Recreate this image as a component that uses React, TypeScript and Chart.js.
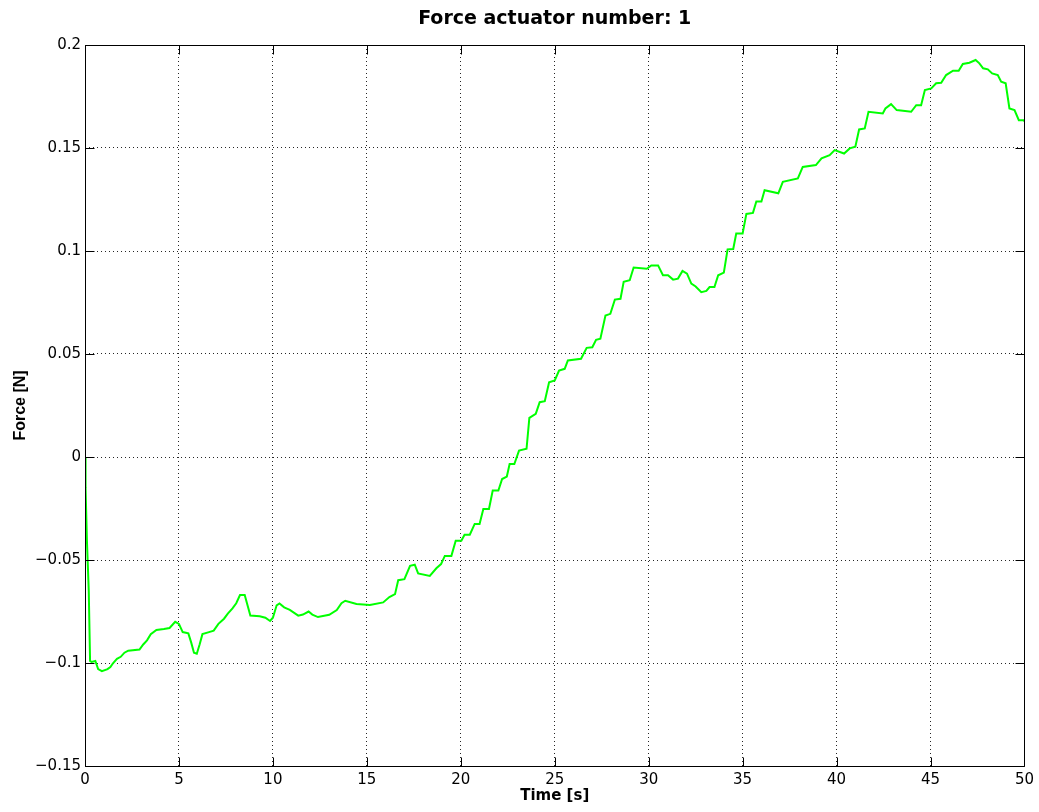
import React, { useEffect, useRef } from "react";
import { Chart, registerables } from "chart.js";

Chart.register(...registerables);

const timeValues: number[] = [
  0, 0.03, 0.1, 0.2, 0.27, 0.35, 0.55, 0.7, 0.9, 1.2, 1.35, 1.5, 1.7, 1.9, 2.1, 2.3, 2.9, 3.1, 3.3, 3.5,
  3.8, 4.2, 4.5, 4.8, 5.0, 5.2, 5.5, 5.65, 5.8, 5.95, 6.1, 6.25, 6.6, 6.85, 7.1, 7.4, 7.6, 7.85, 8.05, 8.25,
  8.5, 8.65, 8.8, 9.3, 9.6, 9.85, 10.0, 10.2, 10.35, 10.6, 10.9, 11.35, 11.6, 11.9, 12.1, 12.4, 13.0, 13.4, 13.65, 13.85,
  14.45, 15.16, 15.87, 16.2, 16.5, 16.67, 17.0, 17.3, 17.55, 17.73, 18.35, 18.7, 18.95, 19.15, 19.5, 19.73, 20.03, 20.2, 20.48, 20.74,
  21.0, 21.2, 21.5, 21.7, 22.0, 22.2, 22.45, 22.6, 22.85, 23.1, 23.5, 23.65, 23.99, 24.2, 24.47, 24.7, 25.0, 25.23, 25.53, 25.7,
  26.4, 26.7, 27.0, 27.2, 27.43, 27.7, 27.96, 28.2, 28.5, 28.67, 28.99, 29.2, 29.9, 30.14, 30.5, 30.76, 31.03, 31.3, 31.56, 31.8,
  32.04, 32.27, 32.5, 32.8, 33.07, 33.24, 33.5, 33.7, 34.0, 34.2, 34.5, 34.66, 35.0, 35.2, 35.55, 35.73, 36.0, 36.17, 36.9, 37.14,
  37.94, 38.2, 38.9, 39.2, 39.63, 39.9, 40.4, 40.7, 41.0, 41.2, 41.5, 41.7, 42.46, 42.6, 42.9, 43.2, 43.97, 44.24, 44.5, 44.7,
  45.04, 45.3, 45.57, 45.83, 46.2, 46.5, 46.72, 47.07, 47.4, 47.6, 47.8, 48.05, 48.28, 48.58, 48.76, 49.0, 49.2, 49.47, 49.7, 49.95,
  50,
];

const forceValues: number[] = [
  0, -0.015, -0.04, -0.065, -0.099, -0.0995, -0.099, -0.103, -0.104, -0.103, -0.102, -0.1, -0.098, -0.097, -0.095, -0.094, -0.0935, -0.091, -0.089, -0.086,
  -0.084, -0.0835, -0.083, -0.08, -0.081, -0.085, -0.0856, -0.09, -0.095, -0.0955, -0.091, -0.086, -0.085, -0.0843, -0.081, -0.0785, -0.076, -0.0735, -0.071, -0.067,
  -0.067, -0.072, -0.077, -0.0773, -0.078, -0.0796, -0.078, -0.072, -0.0711, -0.073, -0.0742, -0.077, -0.0765, -0.075, -0.0765, -0.0777, -0.0766, -0.0743, -0.071, -0.0698,
  -0.0714, -0.0718, -0.0706, -0.068, -0.0666, -0.0598, -0.0593, -0.0528, -0.0523, -0.0565, -0.0577, -0.054, -0.052, -0.048, -0.048, -0.0406, -0.0406, -0.0377, -0.0377, -0.0325,
  -0.0325, -0.0252, -0.0252, -0.0163, -0.0163, -0.0107, -0.0095, -0.0034, -0.0034, 0.0031, 0.004, 0.019, 0.021, 0.0266, 0.0271, 0.0363, 0.0372, 0.042, 0.0428, 0.0469,
  0.0477, 0.053, 0.0533, 0.0569, 0.0574, 0.0687, 0.0695, 0.0764, 0.0768, 0.085, 0.0858, 0.092, 0.0914, 0.093, 0.093, 0.0882, 0.0882, 0.0861, 0.0866, 0.0903,
  0.089, 0.0842, 0.0828, 0.08, 0.0806, 0.0825, 0.0825, 0.0882, 0.0895, 0.1008, 0.101, 0.1085, 0.1085, 0.118, 0.1185, 0.124, 0.124, 0.1295, 0.128, 0.1336,
  0.1352, 0.1408, 0.1417, 0.145, 0.1465, 0.149, 0.1473, 0.1498, 0.1506, 0.159, 0.1595, 0.1676, 0.1668, 0.1692, 0.1713, 0.1684, 0.1676, 0.1708, 0.1708, 0.1781,
  0.1789, 0.1814, 0.1817, 0.1854, 0.1875, 0.1875, 0.1908, 0.1914, 0.1927, 0.1911, 0.1887, 0.1882, 0.1862, 0.1854, 0.1822, 0.1814, 0.1692, 0.1684, 0.1635, 0.1635,
  0.163,
];

const xTickValues: number[] = [0, 5, 10, 15, 20, 25, 30, 35, 40, 45, 50];
const yTickValues: number[] = [-0.15, -0.1, -0.05, 0, 0.05, 0.1, 0.15, 0.2];

const titleText = "Force actuator number: 1";
const xLabel = "Time [s]";
const yLabel = "Force [N]";

const WIDE = "'DejaVu Sans', Verdana, sans-serif";
const NARROW = "'Liberation Sans', Arial, Helvetica, sans-serif";

const boxPlugin = {
  id: "matlabBox",
  afterDatasetsDraw(chart: any) {
    const { ctx, chartArea } = chart;
    const { left, right, top, bottom } = chartArea;
    const xs = chart.scales.x;
    const ys = chart.scales.y;
    const tl = 9;
    ctx.save();
    ctx.strokeStyle = "#000";
    ctx.lineWidth = 1;
    ctx.setLineDash([]);
    const L = Math.round(left) + 0.5;
    const R = Math.round(right) + 0.5;
    const T = Math.round(top) + 0.5;
    const B = Math.round(bottom) + 0.5;
    ctx.beginPath();
    ctx.rect(L, T, R - L, B - T);
    ctx.stroke();
    ctx.beginPath();
    for (const v of xTickValues) {
      const px = Math.round(xs.getPixelForValue(v)) + 0.5;
      ctx.moveTo(px, B);
      ctx.lineTo(px, B - tl);
      ctx.moveTo(px, T);
      ctx.lineTo(px, T + tl);
    }
    for (const v of yTickValues) {
      const py = Math.round(ys.getPixelForValue(v)) + 0.5;
      ctx.moveTo(L, py);
      ctx.lineTo(L + tl, py);
      ctx.moveTo(R, py);
      ctx.lineTo(R - tl, py);
    }
    ctx.stroke();
    ctx.restore();
  },
};

function fmt(v: number): string {
  const r = Math.round(v * 100) / 100;
  const s = String(r);
  return s.replace("-", "\u2212");
}

export default function App() {
  const ref = useRef<HTMLCanvasElement | null>(null);
  useEffect(() => {
    if (!ref.current) return;
    const points = timeValues.map((t, i) => ({ x: t, y: forceValues[i] }));
    const chart = new Chart(ref.current, {
      type: "line",
      data: {
        datasets: [
          {
            data: points,
            borderColor: "#00ff00",
            backgroundColor: "#00ff00",
            borderWidth: 2,
            pointRadius: 0,
            tension: 0,
            fill: false,
          },
        ],
      },
      plugins: [boxPlugin],
      options: {
        responsive: false,
        animation: false,
        maintainAspectRatio: false,
        layout: { padding: { left: 0, right: 14, top: 0, bottom: 0 } },
        plugins: {
          legend: { display: false },
          tooltip: { enabled: false },
          title: {
            display: true,
            fullSize: false,
            text: titleText,
            color: "#000",
            font: { family: WIDE, size: 19, weight: "bold", lineHeight: 1.2 },
            padding: { top: 7.6, bottom: 14.6 },
          },
        },
        scales: {
          x: {
            type: "linear",
            min: 0,
            max: 50,
            afterFit(scale: any) {
              scale.height = 46;
            },
            afterBuildTicks(scale: any) {
              scale.ticks = xTickValues.map((v) => ({ value: v }));
            },
            ticks: {
              color: "#000",
              font: { family: WIDE, size: 15, lineHeight: 1.2 },
              padding: 5,
              maxRotation: 0,
              autoSkip: false,
              callback: (v: any) => fmt(Number(v)),
            },
            grid: {
              color: "rgba(0,0,0,0.85)",
              lineWidth: 1,
              drawTicks: false,
              tickLength: 0,
            },
            border: { display: false, dash: [1, 3] },
            title: {
              display: true,
              text: xLabel,
              color: "#000",
              font: { family: WIDE, size: 15, weight: "bold", lineHeight: 1.2 },
              padding: { top: 0, bottom: 6.5 },
            },
          },
          y: {
            type: "linear",
            min: -0.15,
            max: 0.2,
            afterFit(scale: any) {
              scale.width = 85;
            },
            afterBuildTicks(scale: any) {
              scale.ticks = yTickValues.map((v) => ({ value: v }));
            },
            ticks: {
              color: "#000",
              font: { family: WIDE, size: 15, lineHeight: 1.2 },
              padding: 4,
              autoSkip: false,
              callback: (v: any) => fmt(Number(v)),
            },
            grid: {
              color: "rgba(0,0,0,0.85)",
              lineWidth: 1,
              drawTicks: false,
              tickLength: 0,
            },
            border: { display: false, dash: [1, 3] },
            title: {
              display: true,
              text: yLabel,
              color: "#000",
              font: { family: NARROW, size: 16, weight: "bold", lineHeight: 1.2 },
              padding: { top: 10.5, bottom: 0 },
            },
          },
        },
      } as any,
    });
    return () => chart.destroy();
  }, []);
  return (
    <div style={{ position: "fixed", left: 0, top: 0, width: 1039, height: 812, background: "#fff" }}>
      <canvas ref={ref} width={1039} height={812} style={{ display: "block", width: 1039, height: 812 }} />
    </div>
  );
}
